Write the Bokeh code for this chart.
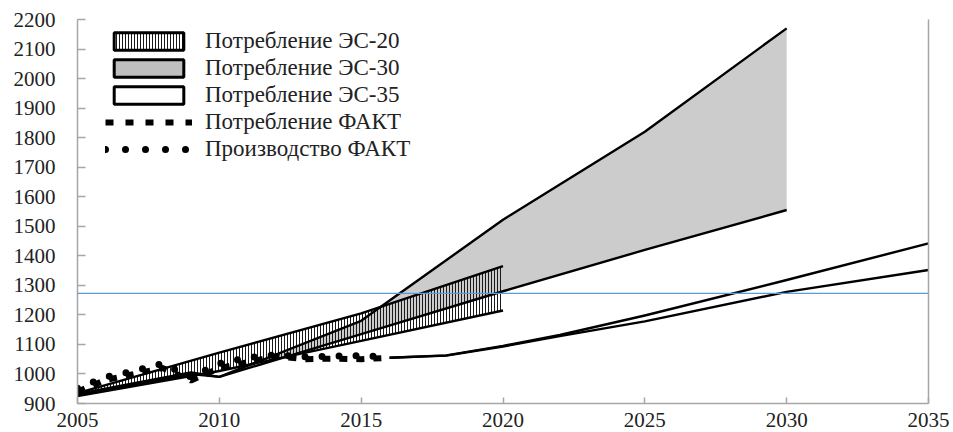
from bokeh.plotting import figure
from bokeh.models import (Range1d, FixedTicker, LinearAxis, Span, Legend,
                          LegendItem, ColumnDataSource)
from bokeh.embed import file_html
from bokeh.resources import INLINE

# ---------------- data ----------------
x_ticks = [2005, 2010, 2015, 2020, 2025, 2030, 2035]
y_ticks = list(range(900, 2201, 100))

years_es20 = [2005, 2010, 2015, 2020]
es20_low = [925, 1010, 1112, 1215]
es20_high = [935, 1072, 1205, 1365]

years_es30 = [2005, 2009, 2010, 2015, 2020, 2025, 2030]
es30_low = [928, 1000, 990, 1135, 1280, 1420, 1555]
es30_high = [932, 1005, 990, 1180, 1522, 1820, 2170]

years_es35 = [2016, 2018, 2020, 2022, 2025, 2030, 2035]
es35_low = [1055, 1062, 1093, 1128, 1178, 1278, 1352]
es35_high = [1055, 1063, 1095, 1132, 1198, 1318, 1442]

years_fakt = list(range(2005, 2017))
consumption_fakt = [940, 980, 1000, 1020, 978, 1020, 1040, 1060, 1050, 1052, 1050, 1055]
production_fakt = [952, 990, 1010, 1035, 990, 1035, 1055, 1065, 1058, 1060, 1062, 1058]

ref_level = 1273

labels = ["Потребление ЭС-20", "Потребление ЭС-30", "Потребление ЭС-35",
          "Потребление ФАКТ", "Производство ФАКТ"]

FONT = "Liberation Serif"
AXIS_GRAY = "#a6a6a6"

p = figure(width=953, height=432, x_range=Range1d(2005, 2035),
           y_range=Range1d(900, 2200), output_backend="svg",
           toolbar_location=None, min_border_left=77, min_border_right=25,
           min_border_top=19, min_border_bottom=29)
p.outline_line_color = None
p.grid.visible = False
p.background_fill_color = "white"
p.border_fill_color = "white"

for ax, ticks, standoff, tin in ((p.xaxis[0], x_ticks, 9, 6), (p.yaxis[0], y_ticks, 22, 8)):
    ax.ticker = FixedTicker(ticks=ticks)
    ax.major_tick_in = tin
    ax.major_tick_out = 0
    ax.minor_tick_line_color = None
    ax.axis_line_color = AXIS_GRAY
    ax.axis_line_width = 1.5
    ax.major_tick_line_color = AXIS_GRAY
    ax.major_tick_line_width = 1.5
    ax.major_label_text_font = FONT
    ax.major_label_text_font_size = "21px"
    ax.major_label_text_color = "#222222"
    ax.major_label_standoff = standoff

right_ax = LinearAxis(ticker=FixedTicker(ticks=[]), axis_line_color=AXIS_GRAY,
                      axis_line_width=1.5, major_tick_in=0, major_tick_out=0,
                      minor_tick_line_color=None, major_label_text_font_size="0px",
                      major_label_standoff=0)
p.add_layout(right_ax, "right")

# ES-30 grey band
src30 = ColumnDataSource(dict(x=years_es30, lo=es30_low, hi=es30_high))
p.varea(x="x", y1="lo", y2="hi", source=src30, fill_color="#cccccc")

# ES-20 hatched band
src20 = ColumnDataSource(dict(x=years_es20, lo=es20_low, hi=es20_high))
p.varea(x="x", y1="lo", y2="hi", source=src20, fill_alpha=0,
        hatch_pattern="vertical_line", hatch_color="#1a1a1a",
        hatch_scale=3, hatch_weight=1)

LW = 2.4
for xs, ys in ((years_es20, es20_low), (years_es20, es20_high),
               (years_es30, es30_low), (years_es30, es30_high),
               (years_es35, es35_low), (years_es35, es35_high)):
    p.line(xs, ys, line_color="black", line_width=LW, line_join="round")

p.add_layout(Span(location=ref_level, dimension="width",
                  line_color="#5b9bd5", line_width=1.3))

p.line(years_fakt, consumption_fakt, line_color="black", line_width=6,
       line_dash="8 9")
p.line(years_fakt, production_fakt, line_color="black", line_width=7,
       line_dash="0 17", line_cap="round")

# legend-only renderers (placed outside the visible ranges)
off_x = [1990, 1991]
off_y = [0, 0]
lg20 = p.quad(left=[off_x[0]], right=[off_x[1]], top=[1], bottom=[0],
              fill_color="white", hatch_pattern="vertical_line",
              hatch_color="#1a1a1a", hatch_scale=3, hatch_weight=1,
              line_color="black", line_width=3)
lg30 = p.quad(left=[off_x[0]], right=[off_x[1]], top=[1], bottom=[0],
              fill_color="#bfbfbf", line_color="black", line_width=3)
lg35 = p.quad(left=[off_x[0]], right=[off_x[1]], top=[1], bottom=[0],
              fill_color="white", line_color="black", line_width=3)
lgc = p.line(off_x, off_y, line_color="black", line_width=6, line_dash="8 12")
lgp = p.line(off_x, off_y, line_color="black", line_width=7, line_dash="0 20",
             line_cap="round")

legend = Legend(items=[LegendItem(label=labels[0], renderers=[lg20]),
                       LegendItem(label=labels[1], renderers=[lg30]),
                       LegendItem(label=labels[2], renderers=[lg35]),
                       LegendItem(label=labels[3], renderers=[lgc]),
                       LegendItem(label=labels[4], renderers=[lgp])],
                location=(28, 241), glyph_width=87, glyph_height=22,
                label_standoff=13, spacing=1, padding=0, margin=0,
                border_line_color=None, background_fill_alpha=0,
                label_text_font=FONT, label_text_font_size="23px",
                label_text_color="#222222", label_height=22)
p.add_layout(legend)

open("out.html", "w").write(file_html(p, INLINE))
